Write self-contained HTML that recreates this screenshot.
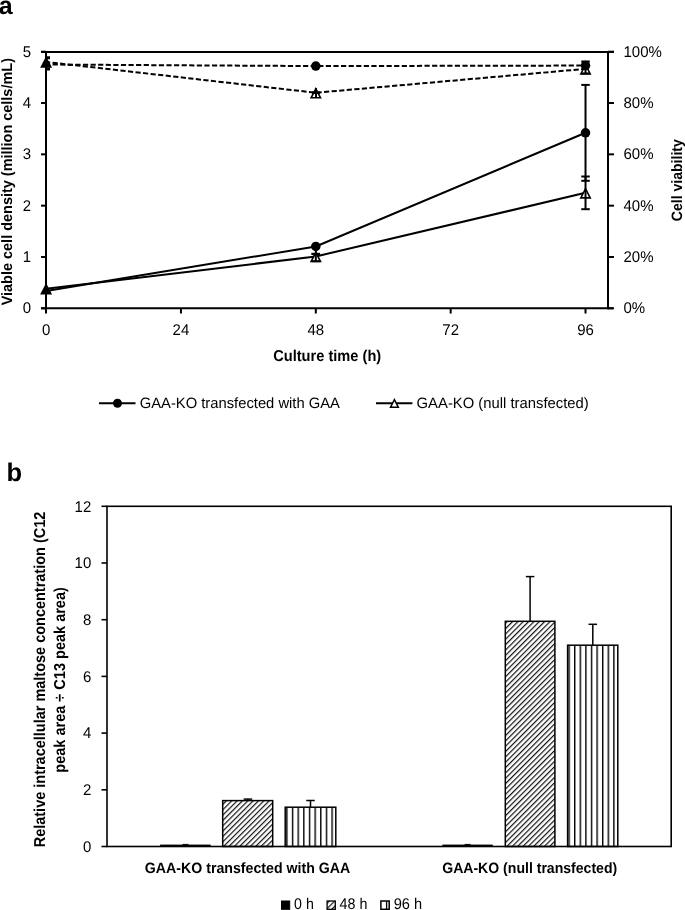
<!DOCTYPE html>
<html><head><meta charset="utf-8"><style>
html,body{margin:0;padding:0;background:#fff;}
svg{display:block;filter:grayscale(100%);}
text{font-family:"Liberation Sans",sans-serif;fill:#000;text-rendering:geometricPrecision;}
.t{font-size:15px;}
.b{font-weight:bold;}
</style></head><body>
<svg width="685" height="910" viewBox="0 0 685 910">
<defs>
<pattern id="diag" patternUnits="userSpaceOnUse" width="3.78" height="3.78" patternTransform="rotate(45)">
<line x1="0.6" y1="0" x2="0.6" y2="3.78" stroke="#111" stroke-width="1.2"/>
</pattern>
<pattern id="vert" patternUnits="userSpaceOnUse" x="286.2" y="0" width="5.65" height="10">
<line x1="0.7" y1="0" x2="0.7" y2="10" stroke="#000" stroke-width="1.4"/>
</pattern>
<pattern id="vert2" patternUnits="userSpaceOnUse" x="568.4" y="0" width="5.6" height="10">
<line x1="0.7" y1="0" x2="0.7" y2="10" stroke="#000" stroke-width="1.4"/>
</pattern>
</defs>

<text x="-1.3" y="14.3" class="b" style="font-size:25px">a</text>
<g stroke="#000" stroke-width="2" fill="none">
<line x1="41" y1="52" x2="614" y2="52"/>
<line x1="46" y1="51" x2="46" y2="313.5"/>
<line x1="608" y1="51" x2="608" y2="309.3"/>
<line x1="41" y1="308.3" x2="613" y2="308.3"/>
<line x1="41" y1="308.30" x2="46" y2="308.30"/>
<line x1="41" y1="256.98" x2="46" y2="256.98"/>
<line x1="41" y1="205.66" x2="46" y2="205.66"/>
<line x1="41" y1="154.34" x2="46" y2="154.34"/>
<line x1="41" y1="103.02" x2="46" y2="103.02"/>
<line x1="41" y1="51.70" x2="46" y2="51.70"/>
<line x1="608" y1="308.30" x2="614" y2="308.30"/>
<line x1="608" y1="256.98" x2="614" y2="256.98"/>
<line x1="608" y1="205.66" x2="614" y2="205.66"/>
<line x1="608" y1="154.34" x2="614" y2="154.34"/>
<line x1="608" y1="103.02" x2="614" y2="103.02"/>
<line x1="608" y1="51.70" x2="614" y2="51.70"/>
<line x1="180.96" y1="308.3" x2="180.96" y2="313.5"/>
<line x1="315.81" y1="308.3" x2="315.81" y2="313.5"/>
<line x1="450.67" y1="308.3" x2="450.67" y2="313.5"/>
<line x1="585.52" y1="308.3" x2="585.52" y2="313.5"/>
</g>
<text x="31" y="313.30" class="t" text-anchor="end" style="font-size:15.5px" textLength="8.34" lengthAdjust="spacingAndGlyphs">0</text>
<text x="31" y="261.98" class="t" text-anchor="end" style="font-size:15.5px" textLength="8.34" lengthAdjust="spacingAndGlyphs">1</text>
<text x="31" y="210.66" class="t" text-anchor="end" style="font-size:15.5px" textLength="8.34" lengthAdjust="spacingAndGlyphs">2</text>
<text x="31" y="159.34" class="t" text-anchor="end" style="font-size:15.5px" textLength="8.34" lengthAdjust="spacingAndGlyphs">3</text>
<text x="31" y="108.02" class="t" text-anchor="end" style="font-size:15.5px" textLength="8.34" lengthAdjust="spacingAndGlyphs">4</text>
<text x="31" y="56.70" class="t" text-anchor="end" style="font-size:15.5px" textLength="8.34" lengthAdjust="spacingAndGlyphs">5</text>
<text x="623.5" y="313.40" class="t" style="font-size:15.5px" textLength="21.68" lengthAdjust="spacingAndGlyphs">0%</text>
<text x="623.5" y="262.08" class="t" style="font-size:15.5px" textLength="30.02" lengthAdjust="spacingAndGlyphs">20%</text>
<text x="623.5" y="210.76" class="t" style="font-size:15.5px" textLength="30.02" lengthAdjust="spacingAndGlyphs">40%</text>
<text x="623.5" y="159.44" class="t" style="font-size:15.5px" textLength="30.02" lengthAdjust="spacingAndGlyphs">60%</text>
<text x="623.5" y="108.12" class="t" style="font-size:15.5px" textLength="30.02" lengthAdjust="spacingAndGlyphs">80%</text>
<text x="623.5" y="56.80" class="t" style="font-size:15.5px" textLength="38.36" lengthAdjust="spacingAndGlyphs">100%</text>
<text x="46.10" y="334.9" class="t" text-anchor="middle" style="font-size:15.5px" textLength="8.34" lengthAdjust="spacingAndGlyphs">0</text>
<text x="180.96" y="334.9" class="t" text-anchor="middle" style="font-size:15.5px" textLength="16.68" lengthAdjust="spacingAndGlyphs">24</text>
<text x="315.81" y="334.9" class="t" text-anchor="middle" style="font-size:15.5px" textLength="16.68" lengthAdjust="spacingAndGlyphs">48</text>
<text x="450.67" y="334.9" class="t" text-anchor="middle" style="font-size:15.5px" textLength="16.68" lengthAdjust="spacingAndGlyphs">72</text>
<text x="585.52" y="334.9" class="t" text-anchor="middle" style="font-size:15.5px" textLength="16.68" lengthAdjust="spacingAndGlyphs">96</text>
<text x="327.2" y="360.6" class="t b" style="font-size:15.7px" text-anchor="middle" textLength="108" lengthAdjust="spacingAndGlyphs">Culture time (h)</text>
<text transform="translate(11.9,181.7) rotate(-90)" x="0" y="0" class="t b" text-anchor="middle" textLength="247.3" lengthAdjust="spacingAndGlyphs">Viable cell density (million cells/mL)</text>
<text transform="translate(681.5,180.2) rotate(-90)" x="0" y="0" class="t b" text-anchor="middle" textLength="82" lengthAdjust="spacingAndGlyphs">Cell viability</text>
<g fill="none" stroke="#000" stroke-width="2">
<polyline points="46.10,291.11 315.81,246.41 585.52,132.79"/>
<polyline points="46.10,288.80 315.81,256.47 585.52,192.83"/>
<polyline points="46.10,64.53 315.81,66.07 585.52,65.56" stroke-dasharray="5.2,2.39" stroke-dashoffset="1.1"/>
<polyline points="46.10,61.96 315.81,92.76 585.52,68.89" stroke-dasharray="5.2,2.39" stroke-dashoffset="1.1"/>
</g>
<polygon points="46.10,283.00 52.10,294.60 40.10,294.60" fill="#000"/>
<polygon points="315.81,250.67 321.81,262.27 309.81,262.27" fill="#000"/>
<polygon points="315.81,254.15 319.18,260.67 312.44,260.67" fill="#fff"/>
<polygon points="585.52,187.03 591.52,198.63 579.52,198.63" fill="#000"/>
<polygon points="585.52,190.51 588.90,197.03 582.15,197.03" fill="#fff"/>
<polygon points="46.10,56.16 52.10,67.76 40.10,67.76" fill="#000"/>
<polygon points="315.81,86.96 321.81,98.56 309.81,98.56" fill="#000"/>
<polygon points="315.81,90.44 319.18,96.96 312.44,96.96" fill="#fff"/>
<polygon points="585.52,63.09 591.52,74.69 579.52,74.69" fill="#000"/>
<polygon points="585.52,66.57 588.90,73.09 582.15,73.09" fill="#fff"/>
<g fill="none" stroke="#000" stroke-width="2">
<line x1="585.52" y1="84.90" x2="585.52" y2="180.80"/>
<line x1="581.27" y1="84.90" x2="589.77" y2="84.90"/>
<line x1="581.27" y1="180.80" x2="589.77" y2="180.80"/>
<line x1="585.52" y1="176.50" x2="585.52" y2="209.20"/>
<line x1="581.27" y1="176.50" x2="589.77" y2="176.50"/>
<line x1="581.27" y1="209.20" x2="589.77" y2="209.20"/>
<line x1="315.81" y1="246.40" x2="315.81" y2="253.90"/>
<line x1="311.56" y1="246.40" x2="320.06" y2="246.40"/>
<line x1="311.56" y1="253.90" x2="320.06" y2="253.90"/>
<line x1="315.81" y1="253.90" x2="315.81" y2="261.20"/>
<line x1="311.56" y1="253.90" x2="320.06" y2="253.90"/>
<line x1="311.56" y1="261.20" x2="320.06" y2="261.20"/>
<line x1="585.52" y1="61.50" x2="585.52" y2="73.40"/>
<line x1="581.27" y1="61.50" x2="589.77" y2="61.50"/>
<line x1="581.27" y1="73.40" x2="589.77" y2="73.40"/>
<path d="M312,92.7H320" stroke-width="2.6"/><path d="M316,88V97"/>
<path d="M46,57.75H50M46,69H50" stroke-width="3.1"/>
</g>
<circle cx="315.81" cy="246.41" r="4.75" fill="#000"/>
<circle cx="585.52" cy="132.79" r="4.75" fill="#000"/>
<circle cx="315.81" cy="66.07" r="4.75" fill="#000"/>
<circle cx="585.52" cy="65.56" r="4.75" fill="#000"/>
<line x1="99" y1="403.3" x2="135.5" y2="403.3" stroke="#000" stroke-width="2"/>
<circle cx="117.50" cy="403.30" r="4.50" fill="#000"/>
<text x="139.7" y="407.8" class="t" textLength="200.3" lengthAdjust="spacingAndGlyphs">GAA-KO transfected with GAA</text>
<line x1="376" y1="403.3" x2="412.4" y2="403.3" stroke="#000" stroke-width="2"/>
<polygon points="394.40,398.00 399.50,408.00 389.30,408.00" fill="#000"/>
<polygon points="394.40,401.30 397.05,406.50 391.75,406.50" fill="#fff"/>
<text x="416.6" y="407.8" class="t" textLength="172.1" lengthAdjust="spacingAndGlyphs">GAA-KO (null transfected)</text>
<text x="6.5" y="481.3" class="b" style="font-size:25.5px">b</text>
<rect x="160.10" y="844.6" width="50.60" height="1.6" fill="#000"/>
<rect x="222.70" y="800.60" width="50.00" height="45.90" fill="url(#diag)" stroke="#000" stroke-width="1.5"/>
<rect x="285.20" y="807.20" width="50.60" height="39.30" fill="url(#vert)" stroke="#000" stroke-width="1.5"/>
<rect x="442.30" y="844.6" width="50.50" height="1.6" fill="#000"/>
<rect x="505.30" y="621.30" width="49.60" height="225.20" fill="url(#diag)" stroke="#000" stroke-width="1.5"/>
<rect x="567.60" y="645.20" width="50.20" height="201.30" fill="url(#vert2)" stroke="#000" stroke-width="1.5"/>
<g stroke="#000" stroke-width="1.5">
<line x1="247.90" y1="799.10" x2="247.90" y2="800.60"/>
<line x1="243.65" y1="799.10" x2="252.15" y2="799.10"/>
<line x1="310.50" y1="800.50" x2="310.50" y2="807.20"/>
<line x1="306.25" y1="800.50" x2="314.75" y2="800.50"/>
<line x1="530.10" y1="576.60" x2="530.10" y2="621.30"/>
<line x1="525.85" y1="576.60" x2="534.35" y2="576.60"/>
<line x1="592.80" y1="624.30" x2="592.80" y2="645.20"/>
<line x1="588.55" y1="624.30" x2="597.05" y2="624.30"/>
<rect x="182.5" y="843.9" width="6" height="1" fill="#000" stroke="none"/>
<rect x="464.5" y="843.9" width="6" height="1" fill="#000" stroke="none"/>
</g>
<rect x="107" y="506.3" width="564.2" height="340.2" fill="none" stroke="#000" stroke-width="1.6"/>
<g stroke="#000" stroke-width="1.6">
<line x1="101.5" y1="846.50" x2="107" y2="846.50"/>
<line x1="101.5" y1="789.80" x2="107" y2="789.80"/>
<line x1="101.5" y1="733.10" x2="107" y2="733.10"/>
<line x1="101.5" y1="676.40" x2="107" y2="676.40"/>
<line x1="101.5" y1="619.70" x2="107" y2="619.70"/>
<line x1="101.5" y1="563.00" x2="107" y2="563.00"/>
<line x1="101.5" y1="506.30" x2="107" y2="506.30"/>
</g>
<text x="91.3" y="851.70" class="t" text-anchor="end" style="font-size:15.5px" textLength="8.34" lengthAdjust="spacingAndGlyphs">0</text>
<text x="91.3" y="795.00" class="t" text-anchor="end" style="font-size:15.5px" textLength="8.34" lengthAdjust="spacingAndGlyphs">2</text>
<text x="91.3" y="738.30" class="t" text-anchor="end" style="font-size:15.5px" textLength="8.34" lengthAdjust="spacingAndGlyphs">4</text>
<text x="91.3" y="681.60" class="t" text-anchor="end" style="font-size:15.5px" textLength="8.34" lengthAdjust="spacingAndGlyphs">6</text>
<text x="91.3" y="624.90" class="t" text-anchor="end" style="font-size:15.5px" textLength="8.34" lengthAdjust="spacingAndGlyphs">8</text>
<text x="91.3" y="568.20" class="t" text-anchor="end" style="font-size:15.5px" textLength="16.68" lengthAdjust="spacingAndGlyphs">10</text>
<text x="91.3" y="511.50" class="t" text-anchor="end" style="font-size:15.5px" textLength="16.68" lengthAdjust="spacingAndGlyphs">12</text>
<text transform="translate(45.1,679.5) rotate(-90)" x="0" y="0" class="t b" style="font-size:15.8px" text-anchor="middle" textLength="335.6" lengthAdjust="spacingAndGlyphs">Relative intracellular maltose concentration (C12</text>
<text transform="translate(64.8,679.9) rotate(-90)" x="0" y="0" class="t b" style="font-size:15.8px" text-anchor="middle" textLength="185.5" lengthAdjust="spacingAndGlyphs">peak area &#247; C13 peak area)</text>
<text x="144.8" y="873" class="t b" textLength="205.5" lengthAdjust="spacingAndGlyphs">GAA-KO transfected with GAA</text>
<text x="442.2" y="873" class="t b" textLength="175" lengthAdjust="spacingAndGlyphs">GAA-KO (null transfected)</text>
<rect x="281.5" y="901" width="8.2" height="8.3" fill="#000" stroke="#000" stroke-width="1"/>
<text x="294.1" y="908.9" class="t" style="font-size:15.5px" textLength="19.7" lengthAdjust="spacingAndGlyphs">0 h</text>
<rect x="327.1" y="901" width="8.2" height="8.3" fill="url(#diag)" stroke="#000" stroke-width="1.3"/>
<text x="339.6" y="908.9" class="t" style="font-size:15.5px" textLength="27.8" lengthAdjust="spacingAndGlyphs">48 h</text>
<rect x="380.9" y="901" width="8.3" height="8.3" fill="#fff" stroke="#000" stroke-width="1.5"/>
<line x1="386.6" y1="901" x2="386.6" y2="909.3" stroke="#000" stroke-width="1.3"/>
<text x="393.7" y="908.9" class="t" style="font-size:15.5px" textLength="28.4" lengthAdjust="spacingAndGlyphs">96 h</text>
</svg></body></html>
